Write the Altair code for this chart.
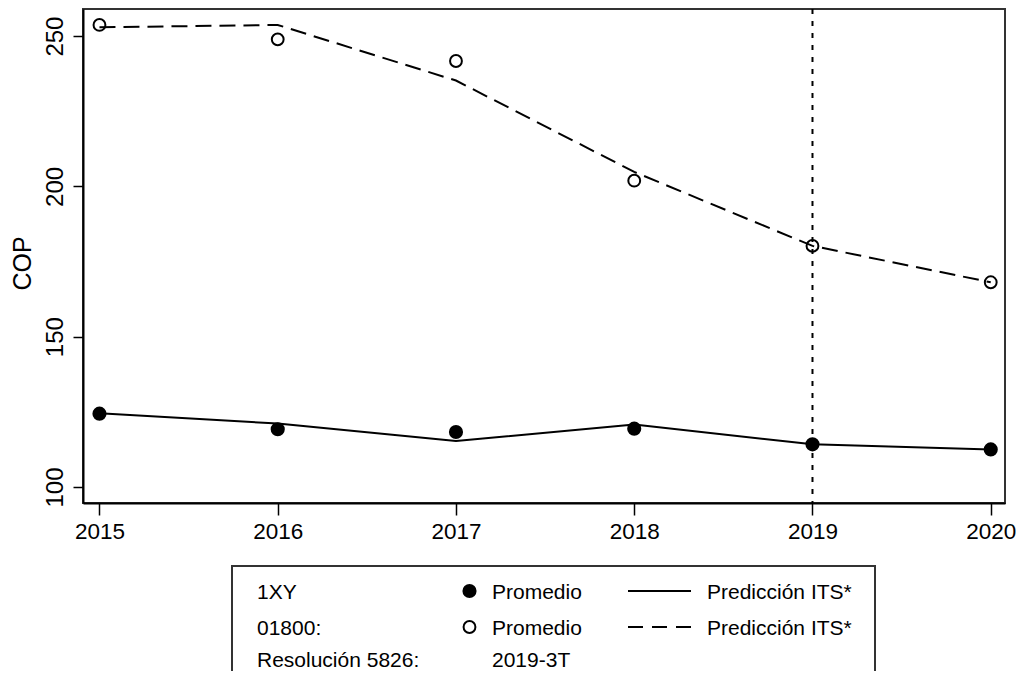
import altair as alt
import pandas as pd

years = [2015, 2016, 2017, 2018, 2019, 2020]
prom_filled = [124.4, 119.2, 118.3, 119.4, 114.2, 112.5]
pred_solid = [124.5, 121.1, 115.3, 120.8, 114.2, 112.5]
prom_hollow = [253.7, 248.9, 241.7, 201.9, 180.2, 168.1]
pred_dashed = [252.9, 253.7, 235.2, 204.8, 180.2, 168.1]
intervention_year = [2019]
y_ticks = [100, 150, 200, 250]

col1_labels = ["1XY", "01800:", "Resolución 5826:"]
col2_labels = ["Promedio", "Promedio", "2019-3T"]
col3_labels = ["Predicción ITS*", "Predicción ITS*"]

FONT = "Liberation Sans"

df = pd.DataFrame({
    "year": years,
    "prom_filled": prom_filled,
    "pred_solid": pred_solid,
    "prom_hollow": prom_hollow,
    "pred_dashed": pred_dashed,
})

xscale = alt.Scale(domain=[2014.9076, 2020.08], nice=False, zero=False)
yscale = alt.Scale(domain=[94.68, 259.0], nice=False, zero=False)

xaxis = alt.Axis(values=years, format="d", title=None, labelFontSize=22.5,
                 tickSize=12, labelPadding=5, grid=False)
yaxis = alt.Axis(values=y_ticks, title="COP", labelFontSize=24, labelAngle=270,
                 labelAlign="center", labelBaseline="bottom", tickSize=10,
                 labelPadding=6, titleFontSize=25, titleFontWeight="normal",
                 titlePadding=8, titleY=254, grid=False)

base = alt.Chart(df)
X = alt.X("year:Q", scale=xscale, axis=xaxis)

vrule = alt.Chart(pd.DataFrame({"year": intervention_year})).mark_rule(
    color="black", strokeWidth=2, strokeDash=[5, 7]
).encode(x=alt.X("year:Q", scale=xscale, axis=xaxis))

line_solid = base.mark_line(color="black", strokeWidth=2).encode(
    x=X, y=alt.Y("pred_solid:Q", scale=yscale, axis=yaxis))
line_dashed = base.mark_line(color="black", strokeWidth=2, strokeDash=[16, 8]).encode(
    x=X, y=alt.Y("pred_dashed:Q", scale=yscale, axis=yaxis))
pts_filled = base.mark_circle(color="black", size=200, opacity=1).encode(
    x=X, y=alt.Y("prom_filled:Q", scale=yscale, axis=yaxis))
pts_hollow = base.mark_point(shape="circle", filled=False, color="black", size=140,
                             strokeWidth=2, opacity=1).encode(
    x=X, y=alt.Y("prom_hollow:Q", scale=yscale, axis=yaxis))

# ---- legend box (decoration, pixel positions) ----
one = pd.DataFrame({"k": [0]})
leg_box = alt.Chart(one).mark_rect(filled=False, stroke="#333", strokeWidth=2).encode(
    x=alt.value(149), x2=alt.value(792), y=alt.value(557), y2=alt.value(720))

row_base = [590, 626, 658]
row_mid = [582, 618]
legend_layers = [leg_box]
for lbl, yb in zip(col1_labels, row_base):
    legend_layers.append(alt.Chart(pd.DataFrame({"t": [lbl]})).mark_text(
        font=FONT, fontSize=21, align="left", baseline="alphabetic", color="black"
    ).encode(x=alt.value(174), y=alt.value(yb), text="t:N"))
for lbl, yb in zip(col2_labels, row_base):
    legend_layers.append(alt.Chart(pd.DataFrame({"t": [lbl]})).mark_text(
        font=FONT, fontSize=21, align="left", baseline="alphabetic", color="black"
    ).encode(x=alt.value(409), y=alt.value(yb), text="t:N"))
for lbl, yb in zip(col3_labels, row_base):
    legend_layers.append(alt.Chart(pd.DataFrame({"t": [lbl]})).mark_text(
        font=FONT, fontSize=21, align="left", baseline="alphabetic", color="black"
    ).encode(x=alt.value(624), y=alt.value(yb), text="t:N"))

legend_layers.append(alt.Chart(one).mark_circle(color="black", size=200, opacity=1).encode(
    x=alt.value(386.5), y=alt.value(row_mid[0])))
legend_layers.append(alt.Chart(one).mark_point(shape="circle", filled=False, color="black",
                                               size=140, strokeWidth=2, opacity=1).encode(
    x=alt.value(386.5), y=alt.value(row_mid[1])))
legend_layers.append(alt.Chart(one).mark_rule(color="black", strokeWidth=2).encode(
    x=alt.value(545), x2=alt.value(608), y=alt.value(row_mid[0])))
legend_layers.append(alt.Chart(one).mark_rule(color="black", strokeWidth=2, strokeDash=[15, 9]).encode(
    x=alt.value(545), x2=alt.value(608), y=alt.value(row_mid[1])))

chart = alt.layer(vrule, line_dashed, line_solid, pts_filled, pts_hollow, *legend_layers).properties(
    width=922, height=494,
    padding={"left": 75, "top": 1, "right": 11, "bottom": 168},
    autosize=alt.AutoSizeParams(type="none"),
    background="white",
).configure(font=FONT).configure_view(
    stroke="#333", strokeWidth=2
).configure_axis(
    domainColor="black", domainWidth=2, tickColor="black", tickWidth=1.5,
    labelColor="black", titleColor="black", labelFont=FONT, titleFont=FONT,
)

chart.save("out.html", embed_options={"renderer": "svg", "actions": False})
